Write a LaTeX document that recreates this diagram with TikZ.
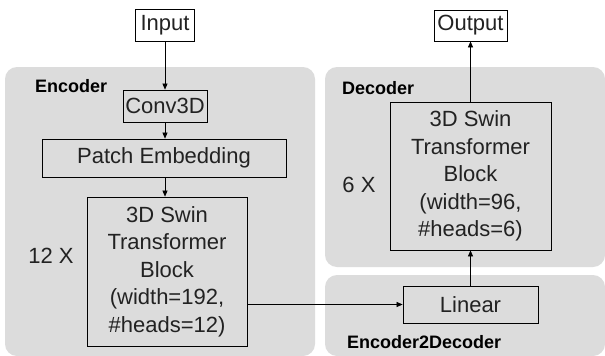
\documentclass[tikz,border=0pt]{standalone}
\usepackage{fontspec}
\setmainfont{Liberation Sans}
\usetikzlibrary{arrows.meta}
\definecolor{panelgray}{HTML}{DCDCDC}
\definecolor{textgray}{HTML}{222222}
\begin{document}
\begin{tikzpicture}[x=1pt,y=-1pt,
  panel/.style={fill=panelgray, rounded corners=12pt, draw=none},
  blk/.style={draw=black, line width=0.8pt, inner sep=0pt, align=center,
    font=\fontsize{22}{27.5}\selectfont, text=textgray},
  lbl/.style={font=\bfseries\fontsize{18}{20}\selectfont, text=black, inner sep=0pt, anchor=west},
  rep/.style={font=\fontsize{22}{25}\selectfont, text=textgray, inner sep=0pt},
  arr/.style={-{Triangle[length=6pt,width=5pt]}, line width=0.6pt}]
\useasboundingbox[fill=white] (0,0) rectangle (605,356);
% panels
\fill[panel] (5,67) rectangle (315,356);
\fill[panel] (325,67) rectangle (605,267);
\fill[panel] (325,275) rectangle (605,356);
% labels
\node[lbl] (lenc) at (35,86) {Encoder};
\node[lbl] (ldec) at (342,88) {Decoder};
\node[lbl] (le2d) at (347,342) {Encoder2Decoder};
% encoder blocks
\node[blk, fill=white, minimum width=59pt, minimum height=32pt] (in) at (165,25) {Input};
\node[blk, minimum width=84pt, minimum height=32pt] (conv) at (165,106) {Conv3D};
\node[blk, minimum width=244pt, minimum height=38pt] (patch) at (164,158) {Patch Embedding};
\node[blk, minimum width=160pt, minimum height=149pt] (encb) at (167,271.5)
  {3D Swin\\Transformer\\Block\\(width=192,\\\#heads=12)};
\node[rep] (r12) at (51,256) {12 X};
% decoder blocks
\node[blk, fill=white, minimum width=73pt, minimum height=31pt] (out) at (470.5,25.5) {Output};
\node[blk, minimum width=161pt, minimum height=148pt] (decb) at (470.5,176)
  {3D Swin\\Transformer\\Block\\(width=96,\\\#heads=6)};
\node[rep] (r6) at (359,185) {6 X};
\node[blk, minimum width=135pt, minimum height=37pt] (lin) at (470.5,304.5) {Linear};
% connectors
\draw[arr] (in.south -| conv.north) -- (conv.north);
\draw[arr] (conv.south) -- (conv.south |- patch.north);
\draw[arr] (conv.south |- patch.south) -- (conv.south |- encb.north);
\draw[arr] (encb.east |- lin.west) -- (lin.west);
\draw[arr] (lin.north) -- (decb.south);
\draw[arr] (decb.north) -- (out.south);
\end{tikzpicture}
\end{document}
